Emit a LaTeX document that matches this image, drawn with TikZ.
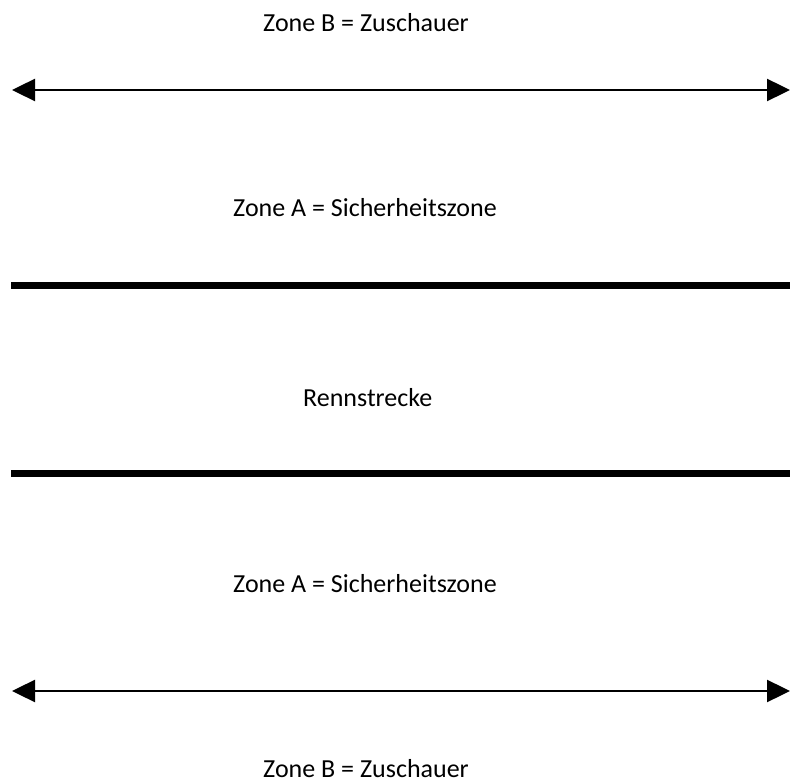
\documentclass[tikz,border=0pt]{standalone}
\usepackage{fontspec}
\setmainfont{Carlito}
\usetikzlibrary{arrows.meta}
\begin{document}
\begin{tikzpicture}[x=1pt,y=-1pt,
  lbl/.style={anchor=base west,inner sep=0pt,font=\fontsize{26}{30}\selectfont},
  zonearrow/.style={line width=2.4pt,{Triangle[length=23pt,width=22pt]}-{Triangle[length=23pt,width=22pt]}},
  trackline/.style={line width=7pt}]
\useasboundingbox[fill=white] (0,0) rectangle (790,783);
\node[lbl] (zb1) at (263,32) {Zone B = Zuschauer};
\coordinate (a1l) at (12,90);
\coordinate (a1r) at (790,90);
\draw[zonearrow] (a1l) -- (a1r);
\node[lbl] (za1) at (233,217) {Zone A = Sicherheitszone};
\coordinate (t1l) at (11,286);
\coordinate (t1r) at (790,286);
\draw[trackline] (t1l) -- (t1r);
\node[lbl] (rs) at (303,407) {Rennstrecke};
\coordinate (t2l) at (11,473);
\coordinate (t2r) at (790,473);
\draw[trackline] (t2l) -- (t2r);
\node[lbl] (za2) at (233,592) {Zone A = Sicherheitszone};
\coordinate (a2l) at (12,691);
\coordinate (a2r) at (790,691);
\draw[zonearrow] (a2l) -- (a2r);
\node[lbl] (zb2) at (263,777) {Zone B = Zuschauer};
\end{tikzpicture}
\end{document}
